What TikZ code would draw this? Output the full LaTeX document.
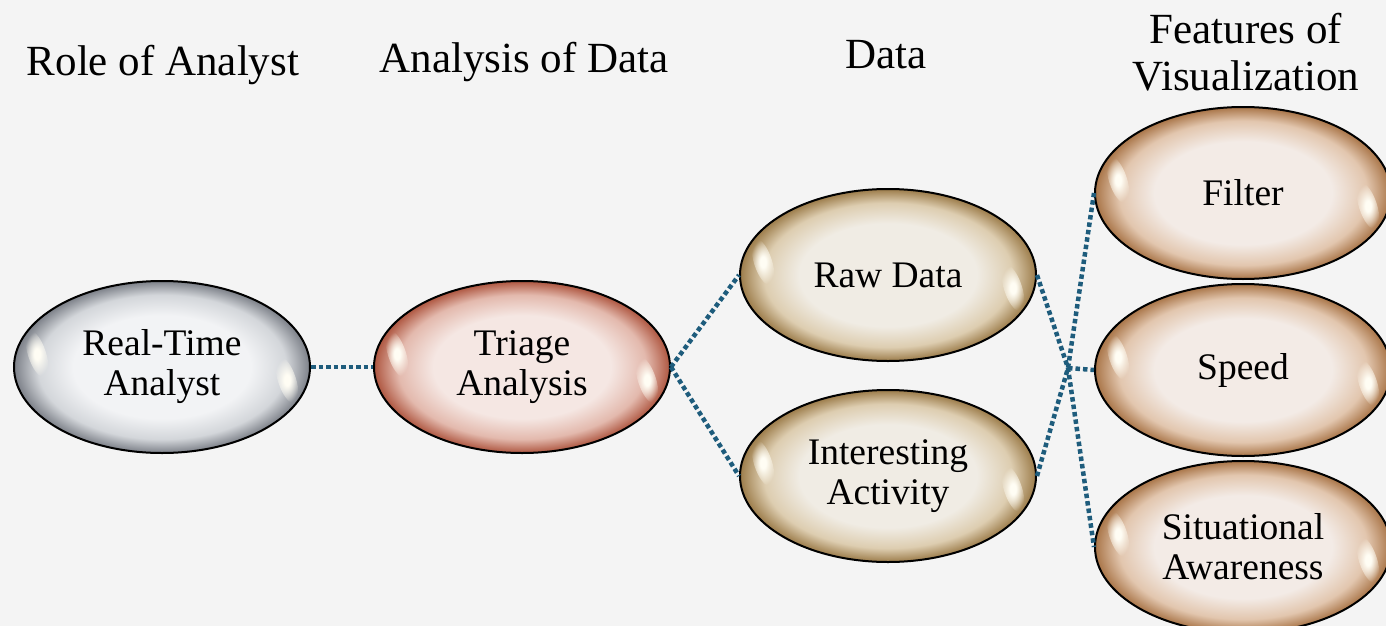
\documentclass[tikz,border=0pt]{standalone}
\usepackage{fontspec}
\setmainfont{Liberation Serif}
\usetikzlibrary{shapes.geometric,fadings}
\definecolor{bg}{HTML}{F4F4F4}
\definecolor{linkc}{HTML}{1E5C7C}
\definecolor{ga}{HTML}{F2F3F5}\definecolor{gb}{HTML}{D3D6DA}\definecolor{gc}{HTML}{7C8088}
\definecolor{ra}{HTML}{F5E7E3}\definecolor{rb}{HTML}{E3B9AD}\definecolor{rc}{HTML}{AE5640}
\definecolor{ta}{HTML}{F0ECE4}\definecolor{tb}{HTML}{DDCDB0}\definecolor{tc}{HTML}{9C7C4A}
\definecolor{oa}{HTML}{F3EBE6}\definecolor{ob}{HTML}{E2C6AE}\definecolor{oc}{HTML}{A97548}
\definecolor{spotc}{HTML}{FFFDF4}
\pgfdeclareradialshading{grayball}{\pgfpointorigin}{color(0bp)=(ga); color(15bp)=(ga); color(21bp)=(gb); color(25bp)=(gc); color(50bp)=(gc)}
\pgfdeclareradialshading{redball}{\pgfpointorigin}{color(0bp)=(ra); color(15bp)=(ra); color(21bp)=(rb); color(25bp)=(rc); color(50bp)=(rc)}
\pgfdeclareradialshading{tanball}{\pgfpointorigin}{color(0bp)=(ta); color(15bp)=(ta); color(21bp)=(tb); color(25bp)=(tc); color(50bp)=(tc)}
\pgfdeclareradialshading{orangeball}{\pgfpointorigin}{color(0bp)=(oa); color(15bp)=(oa); color(21bp)=(ob); color(25bp)=(oc); color(50bp)=(oc)}
\pgfdeclareradialshading{spotsh}{\pgfpointorigin}{color(0bp)=(white); color(6bp)=(white); color(25bp)=(black); color(50bp)=(black)}
\pgfdeclarefading{spotfade}{\pgfuseshading{spotsh}}
\tikzset{
  ball/.style={ellipse, draw=black, line width=2pt, minimum width=296pt, minimum height=172pt,
    inner sep=0pt, align=center, text=black, font=\fontsize{37.5}{40}\selectfont, shade, shading=#1},
  head/.style={align=center, text=black, font=\fontsize{43}{47}\selectfont, inner sep=0pt},
  link/.style={draw=linkc, line width=4.5pt, dash pattern=on 4.5pt off 3pt},
  glint/.style={spotc, path fading=spotfade}
}
\newcommand\glints[1]{%
  \begin{scope}[shift={(#1.center)}]
    \fill[glint, rotate around={18:(-125,-13)}] (-125,-13) ellipse (9 and 24);
    \fill[glint, rotate around={18:(125,13)}] (125,13) ellipse (9 and 24);
  \end{scope}}
\begin{document}
\begin{tikzpicture}[x=1pt, y=-1pt]
\useasboundingbox (0,0) rectangle (1386,626);
\clip (0,0) rectangle (1386,626);
\fill[bg] (0,0) rectangle (1386,626);

\node[head] (h1) at (163,65) {Role of Analyst};
\node[head] (h2) at (524,62) {Analysis of Data};
\node[head] (h3) at (886,55) {Data};
\node[head] (h4) at (1246,52) {Features of\\Visualization};

\node[ball=grayball] (rt) at (162,367) {Real-Time\\Analyst};
\node[ball=redball] (tr) at (522,367) {Triage\\Analysis};
\node[ball=tanball] (raw) at (888,275) {Raw Data};
\node[ball=tanball] (ia) at (888,476) {Interesting\\Activity};
\node[ball=orangeball] (fi) at (1243,193) {Filter};
\node[ball=orangeball] (sp) at (1243,370) {Speed};
\node[ball=orangeball] (sa) at (1243,547) {Situational\\Awareness};

\glints{rt}\glints{tr}\glints{raw}\glints{ia}\glints{fi}\glints{sp}\glints{sa}

\coordinate (j) at (1068,368);
\draw[link] (rt.east) -- (tr.west);
\draw[link] (tr.east) -- (raw.west);
\draw[link] (tr.east) -- (ia.west);
\draw[link] (raw.east) -- (j) -- (sa.west);
\draw[link] (ia.east) -- (j) -- (fi.west);
\draw[link] (j) -- (sp.west);
\end{tikzpicture}
\end{document}
